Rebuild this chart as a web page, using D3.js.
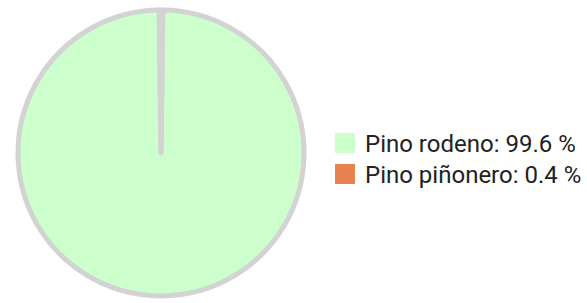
<!DOCTYPE html>
<html><head><meta charset="utf-8">
<script src="https://cdn.jsdelivr.net/npm/d3@7"></script>
<style>html,body{margin:0;padding:0;background:#fff;}</style>
</head><body>
<svg id="c" width="587" height="303"></svg>
<script>
const categories = ["Pino rodeno", "Pino piñonero"];
const values = [99.6, 0.4];
const labels = ["Pino rodeno: 99.6 %", "Pino piñonero: 0.4 %"];
const colors = ["#ccffcc", "#e8834f"];

const svg = d3.select("#c");
const cx = 161, cy = 153, r = 143;
const off = (values[1] / 100) * Math.PI; // center small slice on top
const pie = d3.pie().sort(null).value(d => d)
  .startAngle(off).endAngle(2 * Math.PI + off)(values);
const arc = d3.arc().innerRadius(0).outerRadius(r);
const g = svg.append("g").attr("transform", `translate(${cx},${cy})`);
g.selectAll("path").data(pie).enter().append("path")
  .attr("d", arc)
  .attr("fill", (d, i) => colors[i])
  .attr("stroke", "#d3d3d3")
  .attr("stroke-width", 5)
  .attr("stroke-linejoin", "round");

const y = d3.scaleBand().domain(categories).range([133, 195]).paddingInner(0);
const leg = svg.append("g");
const items = leg.selectAll("g").data(categories).enter().append("g")
  .attr("transform", d => `translate(335,${y(d)})`);
items.append("rect").attr("width", 20).attr("height", 20)
  .attr("fill", (d, i) => colors[i]);
items.append("text").attr("x", 30).attr("y", 19)
  .attr("font-family", "Roboto, sans-serif").attr("font-size", 24)
  .attr("fill", "#222")
  .text((d, i) => labels[i]);
</script>
</body></html>
